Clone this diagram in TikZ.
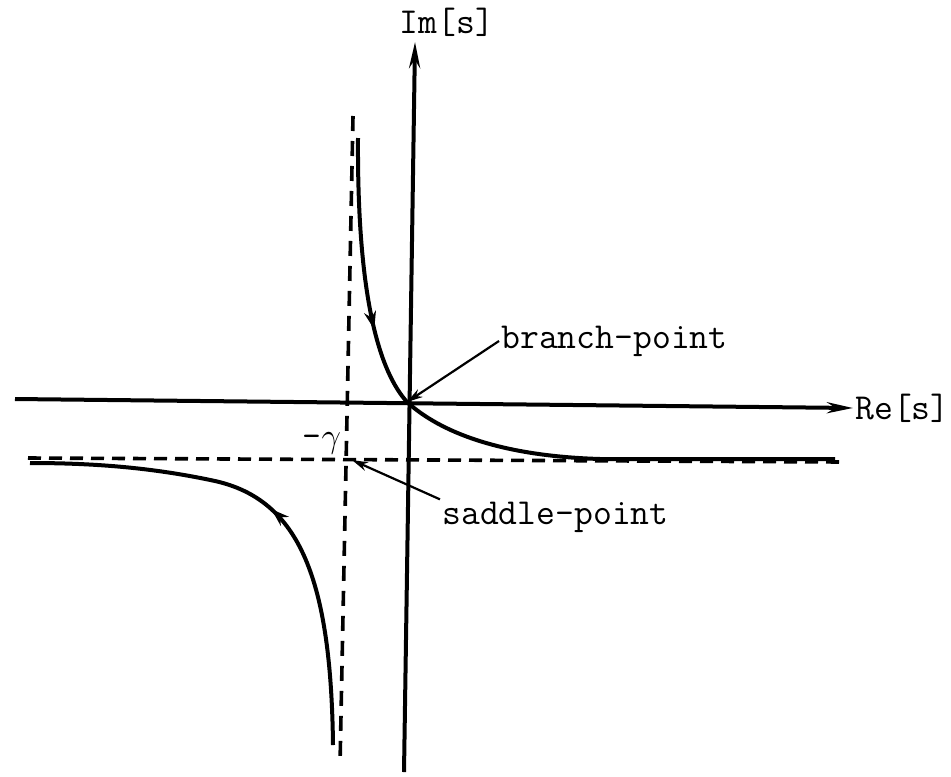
\documentclass[tikz,border=0pt]{standalone}
\usepackage{tikz}
\usetikzlibrary{arrows.meta,decorations.markings}
\tikzset{
  axis/.style={line width=2pt,-{Stealth[length=13pt,width=5.5pt]}},
  contour/.style={line width=2pt},
  asym/.style={line width=1.8pt,dash pattern=on 6.5pt off 4pt},
  asymv/.style={line width=1.8pt,dash pattern=on 7.5pt off 5pt},
  leader/.style={line width=1.1pt,-{Stealth[length=8pt,width=4.5pt]}},
  flowmark/.style={postaction={decorate,decoration={markings,mark=at position #1 with {\arrow{Stealth[length=9pt,width=6pt]}}}}},
  lbl/.style={font=\ttfamily\fontsize{18.3}{21}\selectfont,inner sep=1pt}
}
\begin{document}
\begin{tikzpicture}[x=0.5pt,y=-0.5pt]
  \useasboundingbox (0,0) rectangle (951,776);
  % points on the plane
  \coordinate (bp) at (407,402);
  \coordinate (sp) at (352,460);
  \coordinate (rel) at (15,399);
  \coordinate (rer) at (853,408);
  \coordinate (imb) at (404,772);
  \coordinate (imt) at (415,42);
  \coordinate (vtop) at (353,116);
  \coordinate (vbot) at (340,765);
  \coordinate (hl) at (28,458);
  \coordinate (hr) at (843,462);
  % asymptotes
  \draw[asymv] (vtop) -- (vbot);
  \draw[asym] (hl) -- (hr);
  % axes
  \draw[axis] (rel) -- (rer);
  \draw[axis] (imb) -- (imt);
  \node[lbl,anchor=west] (re) at (rer) {Re[s]};
  \node[lbl] (im) at (447,22) {Im[s]};
  % contour branches
  \draw[contour,flowmark=0.27] (358,138) .. controls (357,300) and (380,372) .. (bp)
    .. controls (440,432) and (500,456) .. (600,459) -- (835,459);
  \draw[contour,flowmark=0.5] (333,745) .. controls (331,580) and (300,500) .. (215,481)
    .. controls (150,467) and (90,463) .. (30,463);
  % labels
  \node[lbl] (gam) at (322,443) {-$\gamma$};
  \node[lbl,anchor=west] (bplbl) at (499,341) {branch-point};
  \node[lbl,anchor=west] (splbl) at (440,517) {saddle-point};
  \draw[leader] (bplbl.west) -- (bp);
  \draw[leader] (splbl.north west) -- (sp);
\end{tikzpicture}
\end{document}
